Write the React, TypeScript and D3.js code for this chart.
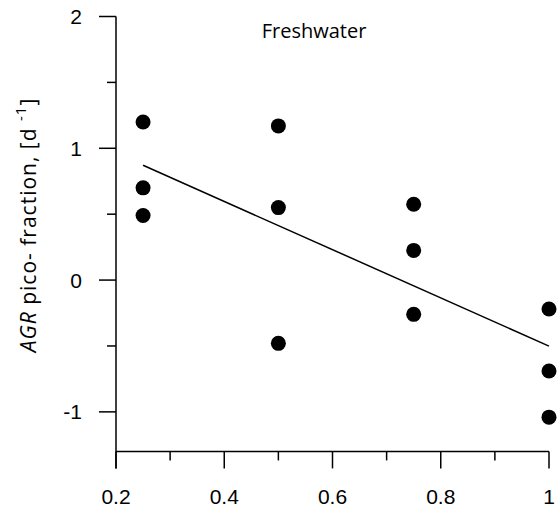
import React from "react";
import * as d3 from "d3";

const xValues = [0.25, 0.25, 0.25, 0.5, 0.5, 0.5, 0.75, 0.75, 0.75, 1, 1, 1];
const yValues = [1.2, 0.7, 0.49, 1.17, 0.55, -0.48, 0.575, 0.225, -0.26, -0.22, -0.69, -1.04];
const xTickLabels = [0.2, 0.4, 0.6, 0.8, 1];
const xMinorTicks = [0.3, 0.5, 0.7, 0.9];
const yTickLabels = [-1, 0, 1, 2];
const yMinorTicks = [-0.5, 0.5, 1.5];
const title = "Freshwater";

const W = 557;
const H = 517;

export default function App() {
  const x = d3.scaleLinear().domain([0.2, 1]).range([116, 549]);
  const y = d3.scaleLinear().domain([-1.3, 2]).range([451.4, 16.5]);

  const n = xValues.length;
  const mx = d3.mean(xValues)!;
  const my = d3.mean(yValues)!;
  let sxy = 0, sxx = 0;
  for (let i = 0; i < n; i++) {
    sxy += (xValues[i] - mx) * (yValues[i] - my);
    sxx += (xValues[i] - mx) ** 2;
  }
  const slope = sxy / sxx;
  const intercept = my - slope * mx;
  const [x0, x1] = d3.extent(xValues) as [number, number];
  const fit: [number, number][] = [[x0, intercept + slope * x0], [x1, intercept + slope * x1]];
  const line = d3.line<[number, number]>().x(d => x(d[0])).y(d => y(d[1]));

  const axisColor = "#000";
  const tickFont = "'Liberation Sans', Arial, sans-serif";
  const labelFont = "'Open Sans', 'Noto Sans', sans-serif";
  const yBottom = y(-1.3);
  const xLeft = x(0.2);

  return (
    <svg width={W} height={H} style={{ position: "absolute", left: 0, top: 0, background: "#fff" }}>
      <rect width={W} height={H} fill="#fff" />
      {/* Y axis */}
      <line x1={xLeft} x2={xLeft} y1={y(2)} y2={yBottom + 17} stroke={axisColor} strokeWidth={1.5} />
      {yTickLabels.map(t => (
        <g key={"yt" + t}>
          <line x1={xLeft - 17} x2={xLeft} y1={y(t)} y2={y(t)} stroke={axisColor} strokeWidth={1.5} />
          <text x={82} y={y(t)} dy="0.36em" textAnchor="end" fontFamily={tickFont} fontSize={21} fill="#000">{t}</text>
        </g>
      ))}
      {yMinorTicks.map(t => (
        <line key={"ym" + t} x1={xLeft - 9} x2={xLeft} y1={y(t)} y2={y(t)} stroke={axisColor} strokeWidth={1.5} />
      ))}
      {/* X axis */}
      <line x1={xLeft} x2={x(1)} y1={yBottom} y2={yBottom} stroke={axisColor} strokeWidth={1.5} />
      {xTickLabels.map(t => (
        <g key={"xt" + t}>
          <line x1={x(t)} x2={x(t)} y1={yBottom} y2={yBottom + 17} stroke={axisColor} strokeWidth={1.5} />
          <text x={x(t)} y={504} textAnchor="middle" fontFamily={tickFont} fontSize={21} fill="#000">{String(t)}</text>
        </g>
      ))}
      {xMinorTicks.map(t => (
        <line key={"xm" + t} x1={x(t)} x2={x(t)} y1={yBottom} y2={yBottom + 9} stroke={axisColor} strokeWidth={1.5} />
      ))}
      {/* regression line */}
      <path d={line(fit) || ""} fill="none" stroke="#000" strokeWidth={1.5} />
      {/* points */}
      {xValues.map((xv, i) => (
        <circle key={"p" + i} cx={x(xv)} cy={y(yValues[i])} r={7.5} fill="#000" />
      ))}
      {/* title */}
      <text x={314} y={38} textAnchor="middle" fontFamily={labelFont} fontSize={20} fill="#000">{title}</text>
      {/* y label */}
      <text transform={`translate(36,225) rotate(-90)`} textAnchor="middle" fontFamily={labelFont} fontSize={21} letterSpacing={1} fill="#000">
        <tspan fontStyle="italic">AGR</tspan>
        <tspan> pico- fraction, [d </tspan>
        <tspan fontSize={15} dy={-10}>-1</tspan>
        <tspan dy={10}>]</tspan>
      </text>
    </svg>
  );
}
